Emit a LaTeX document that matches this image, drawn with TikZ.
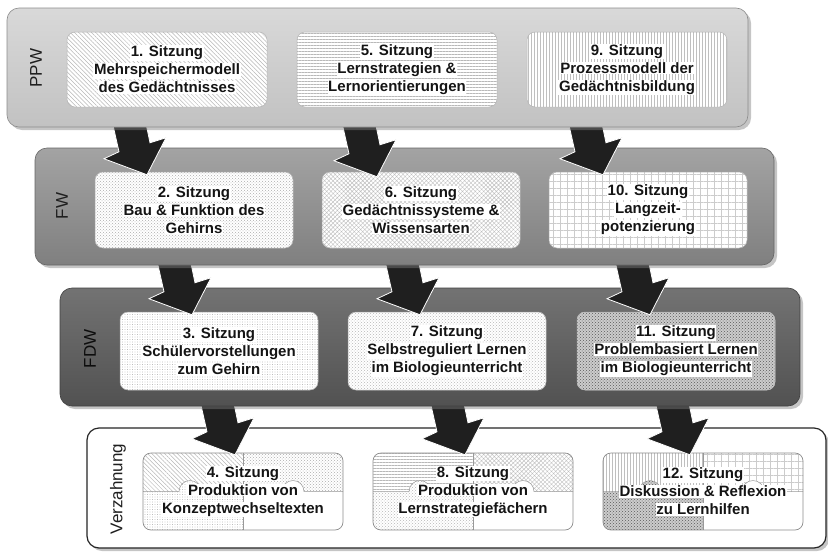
\documentclass[tikz,border=0pt]{standalone}
\usepackage{fontspec}
\setmainfont{Liberation Sans}
\usetikzlibrary{patterns,patterns.meta,shadows,calc}

% white highlight behind one line of text
\newcommand\wl[1]{{\setlength{\fboxsep}{0.6pt}\colorbox{white}{#1}}}

% four-piece puzzle tile: centre x, centre y, styles of the top-left,
% top-right and bottom-left pieces (bottom-right stays white)
\newcommand\puzzlepieces[5]{%
  \begin{scope}
    \clip[rounded corners=8pt] (#1-100,#2-38.5) rectangle (#1+100,#2+38.5);
    \fill[white] (#1-100,#2-38.5) rectangle (#1+100,#2+38.5);
    \fill[#3] (#1-100,#2-38.5) rectangle (#1,#2);
    \fill[#4] (#1,#2-38.5) rectangle (#1+100,#2);
    \fill[#5] (#1-100,#2) rectangle (#1,#2+38.5);
    \fill[white] (#1-53,#2) circle[radius=11];
    \fill[#5] (#1-53,#2) circle[radius=11];
    \fill[white] (#1+50,#2) circle[radius=11];
    \draw[pzline] (#1-100,#2) -- (#1-64,#2)
      arc[start angle=180,end angle=360,radius=11] -- (#1+39,#2)
      arc[start angle=180,end angle=360,radius=11] -- (#1+100,#2);
    \draw[pzline] (#1,#2-38.5) -- (#1,#2+38.5);
  \end{scope}
  \draw[pzborder] (#1-100,#2-38.5) rectangle (#1+100,#2+38.5);
}

\begin{document}
\begin{tikzpicture}[x=1pt,y=-1pt,
  txt/.style={font=\fontsize{15}{18}\selectfont\bfseries, text=black!92,
    align=center, inner sep=0pt},
  sbox/.style={txt, rounded corners=8pt, draw=black!30, line width=0.5pt,
    preaction={fill=white}},
  band/.style={rounded corners=12pt, line width=0.6pt, inner sep=0pt,
    drop shadow={shadow xshift=3pt,shadow yshift=-3pt,opacity=0.45}},
  blabel/.style={rotate=90, font=\fontsize{17}{20}\selectfont, text=black!88},
  pzline/.style={draw=black!40, line width=0.5pt},
  pzborder/.style={draw=black!45, line width=0.7pt, rounded corners=8pt},
  arrowfill/.style={fill=black!88, draw=white, line width=0.8pt, line join=miter},
  % fill patterns
  pnw/.style={pattern={Lines[angle=-45,distance=3pt,line width=0.5pt]}, pattern color=black!28},
  phl/.style={pattern={Lines[angle=0,distance=3pt,line width=0.5pt]}, pattern color=black!28},
  pvl/.style={pattern={Lines[angle=90,distance=3pt,line width=0.5pt]}, pattern color=black!25},
  pck/.style={pattern=crosshatch dots, pattern color=black!32},
  pmesh/.style={pattern={Hatch[angle=45,distance=3pt,line width=0.4pt]}, pattern color=black!25},
  pgrid/.style={pattern={Hatch[angle=0,distance=7pt,line width=0.6pt]}, pattern color=black!20},
  pdot/.style={pattern={Dots[distance=2.5pt,radius=0.45pt]}, pattern color=black!40},
  pck2/.style={pattern=crosshatch dots, pattern color=black!28},
  pdense/.style={preaction={fill=black!20}, pattern=crosshatch dots, pattern color=black!65},
  blockarrow/.pic={\filldraw[arrowfill] (0,0) -- (19,-37) -- (3,-32) -- (-8,-85)
    -- (-42,-85) -- (-28,-23) -- (-43,-16) -- cycle;}
]
\useasboundingbox (0,0) rectangle (828,552);
\fill[white] (0,0) rectangle (828,552);

% ---------- Verzahnung ----------
\node[band, draw=black!85, line width=1.2pt, fill=white,
  minimum width=739pt, minimum height=120pt] (verz) at (456.5,488) {};
\node[blabel] (lverz) at (118,489) {Verzahnung};

\puzzlepieces{243}{491.5}{pnw}{pck}{pdot}
\node[txt, minimum width=200pt, minimum height=77pt] (b4) at (243,491.5)
  {\wl{4. Sitzung}\\\wl{Produktion von}\\\wl{Konzeptwechseltexten}};
\puzzlepieces{473}{491.5}{phl}{pmesh}{pck2}
\node[txt, minimum width=200pt, minimum height=77pt] (b8) at (473,491.5)
  {\wl{8. Sitzung}\\\wl{Produktion von}\\\wl{Lernstrategiefächern}};
\puzzlepieces{703}{491.5}{pvl}{pgrid}{pdense}
\node[txt, minimum width=200pt, minimum height=77pt] (b12) at (703,491.5)
  {\wl{12. Sitzung}\\\wl{Diskussion \& Reflexion}\\\wl{zu Lernhilfen}};

\coordinate (t4) at ($(b4.north)+(-8,2)$);
\coordinate (t8) at ($(b8.north)+(-8,2)$);
\coordinate (t12) at ($(b12.north)+(-13,2)$);
\pic at (t4) {blockarrow};
\pic at (t8) {blockarrow};
\pic at (t12) {blockarrow};

% ---------- FDW ----------
\node[band, draw=black!75, top color=black!55, bottom color=black!68,
  minimum width=740pt, minimum height=118pt] (fdw) at (430,347) {};
\node[blabel, text=black!95] (lfdw) at (90,349) {FDW};

\node[sbox, pdot, minimum width=198pt, minimum height=78pt] (b3) at (219,351)
  {\wl{3. Sitzung}\\\wl{Schülervorstellungen}\\\wl{zum Gehirn}};
\node[sbox, pck2, minimum width=198pt, minimum height=78pt] (b7) at (447,351)
  {\wl{7. Sitzung}\\\wl{Selbstreguliert Lernen}\\\wl{im Biologieunterricht}};
\node[sbox, pdense, minimum width=198pt, minimum height=78pt] (b11) at (676,351)
  {\wl{11. Sitzung}\\\wl{Problembasiert Lernen}\\\wl{im Biologieunterricht}};

\coordinate (t3) at ($(b3.north)+(-27,3)$);
\coordinate (t7) at ($(b7.north)+(-27,3)$);
\coordinate (t11) at ($(b11.north)+(-26,3)$);
\pic at (t3) {blockarrow};
\pic at (t7) {blockarrow};
\pic at (t11) {blockarrow};

% ---------- FW ----------
\node[band, draw=black!60, top color=black!36, bottom color=black!50,
  minimum width=739pt, minimum height=117pt] (fw) at (404.5,206.5) {};
\node[blabel] (lfw) at (62,206) {FW};

\node[sbox, pck, minimum width=198pt, minimum height=76pt] (b2) at (194,210)
  {\wl{2. Sitzung}\\\wl{Bau \& Funktion des}\\\wl{Gehirns}};
\node[sbox, pmesh, minimum width=198pt, minimum height=76pt] (b6) at (421,210)
  {\wl{6. Sitzung}\\\wl{Gedächtnissysteme \&}\\\wl{Wissensarten}};
\node[sbox, pgrid, minimum width=198pt, minimum height=76pt] (b10) at (648,210)
  {\wl{10. Sitzung}\\\wl{Langzeit-}\\\wl{potenzierung}};

\coordinate (t2) at ($(b2.north)+(-47,3)$);
\coordinate (t6) at ($(b6.north)+(-44,5)$);
\coordinate (t10) at ($(b10.north)+(-45,3)$);
\pic at (t2) {blockarrow};
\pic at (t6) {blockarrow};
\pic at (t10) {blockarrow};

% ---------- PPW ----------
\node[band, draw=black!45, top color=black!15, bottom color=black!24,
  minimum width=741pt, minimum height=119pt] (ppw) at (377.5,67.5) {};
\node[blabel] (lppw) at (36,68) {PPW};

\node[sbox, pnw, minimum width=200pt, minimum height=75pt] (b1) at (167,69.5)
  {\wl{1. Sitzung}\\\wl{Mehrspeichermodell}\\\wl{des Gedächtnisses}};
\node[sbox, phl, minimum width=200pt, minimum height=75pt] (b5) at (397,69.5)
  {\wl{5. Sitzung}\\\wl{Lernstrategien \&}\\\wl{Lernorientierungen}};
\node[sbox, pvl, minimum width=200pt, minimum height=75pt] (b9) at (627,69.5)
  {\wl{9. Sitzung}\\\wl{Prozessmodell der}\\\wl{Gedächtnisbildung}};
\end{tikzpicture}
\end{document}
